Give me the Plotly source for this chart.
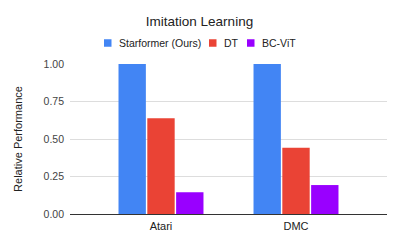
import plotly.graph_objects as go

categories = ["Atari", "DMC"]
series_names = ["Starformer (Ours)", "DT", "BC-ViT"]
starformer = [1.0, 1.0]
dt = [0.638, 0.442]
bcvit = [0.145, 0.193]
colors = ["#4285F4", "#EA4335", "#9900FF"]
y_ticks = [0, 0.25, 0.5, 0.75, 1.0]
y_tick_labels = ["0.00", "0.25", "0.50", "0.75", "1.00"]

W, H = 399, 247
ML, MR, MT, MB = 70, 12, 64, 33
PW, PH = W - ML - MR, H - MT - MB

fig = go.Figure()
for name, vals, c in zip(series_names, [starformer, dt, bcvit], colors):
    fig.add_trace(go.Bar(x=categories, y=vals, name=name, marker_color=c,
                         marker_line_width=0, showlegend=False))

font = "Liberation Sans, Arial, sans-serif"

# manual legend (swatch + label) positioned in pixels, converted to paper coords
legend_swatch_x = [104, 209, 247]
legend_y_px = 43
sw = 7.5
def px_x(x):
    return (x - ML) / PW
def px_y(y):
    return (H - MB - y) / PH
shapes = []
annotations = []
for name, c, sx in zip(series_names, colors, legend_swatch_x):
    shapes.append(dict(type="rect", xref="paper", yref="paper",
                       x0=px_x(sx), x1=px_x(sx + sw), y0=px_y(legend_y_px + sw / 2), y1=px_y(legend_y_px - sw / 2),
                       fillcolor=c, line=dict(width=0)))
    annotations.append(dict(text=name, xref="paper", yref="paper", x=px_x(sx + sw + 5), y=px_y(legend_y_px),
                            xanchor="left", yanchor="middle", showarrow=False,
                            font=dict(size=10.5, color="#222", family=font)))

fig.update_layout(
    width=W, height=H,
    margin=dict(l=ML, r=MR, t=MT, b=MB, autoexpand=False),
    paper_bgcolor="white", plot_bgcolor="white",
    font=dict(family=font, size=11, color="#222"),
    title=dict(text="Imitation Learning", x=0.5, xanchor="center", y=1 - 21 / H, yanchor="middle",
               yref="container", font=dict(size=13.5, color="#222")),
    barmode="group", bargap=0.36, bargroupgap=0.05,
    showlegend=False,
    shapes=shapes, annotations=annotations,
    xaxis=dict(range=[-0.674, 1.674], showgrid=False, tickfont=dict(size=11, color="#222"),
               showline=False, ticks="", ticklabelstandoff=4),
    yaxis=dict(range=[0, 1.0], tickvals=y_ticks, ticktext=y_tick_labels,
               showgrid=True, gridcolor="#dddddd", gridwidth=1,
               zeroline=True, zerolinecolor="#333333", zerolinewidth=1,
               tickfont=dict(size=10.5, color="#444"), ticklabelstandoff=5,
               title=dict(text="Relative Performance", font=dict(size=11, color="#222"), standoff=18)),
)
fig.write_html("out.html", post_script="document.body.style.margin='0';",
               config={"displayModeBar": False})
